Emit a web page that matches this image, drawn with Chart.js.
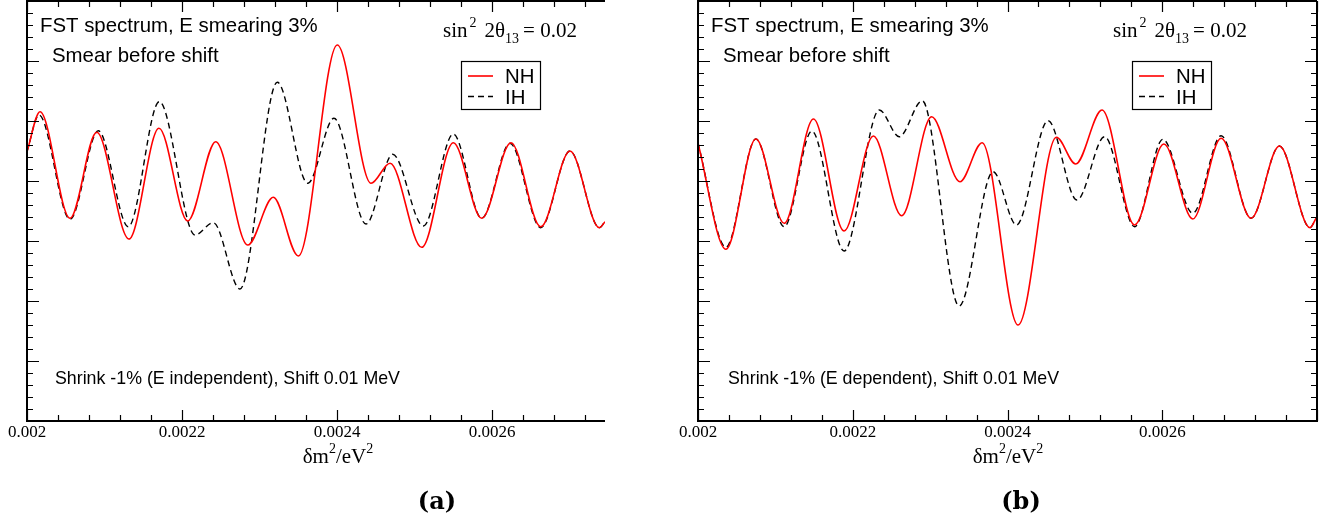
<!DOCTYPE html>
<html>
<head>
<meta charset="utf-8">
<script src="https://cdn.jsdelivr.net/npm/chart.js@4.4.1/dist/chart.umd.min.js"></script>
<style>
  html, body { margin: 0; padding: 0; background: #fff; }
  #wrap { position: relative; width: 1322px; height: 521px; }
  canvas { position: absolute; top: 0; }
</style>
</head>
<body>
<div id="wrap">
  <canvas id="chartA" width="661" height="521" style="left:0"></canvas>
  <canvas id="chartB" width="661" height="521" style="left:661px"></canvas>
</div>
<script>
// panel (a): E independent shrink
const aNhX = [0.0020000, 0.0020168, 0.0020555, 0.0020899, 0.0021316, 0.0021703, 0.0022074, 0.0022435, 0.0022848, 0.0023178, 0.0023501,
              0.0024004, 0.0024439, 0.0024684, 0.0025093, 0.0025501, 0.0025867, 0.0026245, 0.0026628, 0.0027006, 0.0027385, 0.0027458]
const aNhY = [4.49, 5.155, 3.378, 4.812, 3.033, 4.878, 3.333, 4.655, 2.933, 3.728, 2.75,
              6.267, 3.962, 4.295, 2.895, 4.638, 3.378, 4.638, 3.238, 4.5, 3.222, 3.322]
const aIhX = [0.0020000, 0.0020155, 0.0020555, 0.0020920, 0.0021307, 0.0021707, 0.0022168, 0.0022404, 0.0022748, 0.0023230, 0.0023622,
              0.0023961, 0.0024374, 0.0024719, 0.0025114, 0.0025501, 0.0025867, 0.0026232, 0.0026628, 0.0027006, 0.0027385, 0.0027458]
const aIhY = [4.49, 5.1, 3.362, 4.838, 3.238, 5.322, 3.1, 3.305, 2.2, 5.645, 3.962,
              5.045, 3.283, 4.445, 3.25, 4.783, 3.378, 4.628, 3.222, 4.5, 3.222, 3.322]

// panel (b): E dependent shrink
const bNhX = [0.0020000, 0.0020361, 0.0020748, 0.0021114, 0.0021492, 0.0021888, 0.0022266, 0.0022632, 0.0023019, 0.0023385, 0.0023672,
              0.0024137, 0.0024632, 0.0024881, 0.0025221, 0.0025643, 0.0026021, 0.0026395, 0.0026761, 0.0027148, 0.0027514, 0.0027910, 0.0027987]
const bNhY = [4.63, 2.862, 4.7, 3.295, 5.033, 3.167, 4.75, 3.422, 5.072, 3.988, 4.638,
              1.6, 4.728, 4.283, 5.183, 3.267, 4.617, 3.367, 4.712, 3.378, 4.583, 3.222, 3.378]
const bIhX = [0.0020000, 0.0020361, 0.0020748, 0.0021114, 0.0021471, 0.0021888, 0.0022343, 0.0022601, 0.0022898, 0.0023375, 0.0023814,
              0.0024116, 0.0024524, 0.0024898, 0.0025255, 0.0025643, 0.0026008, 0.0026395, 0.0026761, 0.0027148, 0.0027514, 0.0027910, 0.0027987]
const bIhY = [4.63, 2.895, 4.7, 3.238, 4.833, 2.833, 5.183, 4.738, 5.338, 1.917, 4.155,
              3.267, 5.005, 3.683, 4.738, 3.238, 4.695, 3.462, 4.755, 3.378, 4.583, 3.222, 3.378]

const xTicks = [0.002, 0.0022, 0.0024, 0.0026]
const xTickLabels = ['0.002', '0.0022', '0.0024', '0.0026']

const SANS = '"Liberation Sans", Arial, sans-serif'
const SERIF = '"Liberation Serif", "Times New Roman", serif'

const pts = (xs, ys) => xs.map((x, i) => ({ x: x, y: ys[i] }))

// draws text pieces one after another (for super/subscripts)
const runs = (ctx, x, y, parts) => {
    parts.forEach(p => {
        ctx.font = p[1]
        ctx.fillText(p[0], x, y + (p[2] || 0))
        x += ctx.measureText(p[0]).width + (p[3] || 0)
    })
}
const runsWidth = (ctx, parts) => {
    let w = 0
    parts.forEach(p => {
        ctx.font = p[1]
        w += ctx.measureText(p[0]).width + (p[3] || 0)
    })
    return w
}

const frame = panel => ({
    id: 'frame',
    afterDraw(chart) {
        const { ctx, chartArea: a, scales: { x, y } } = chart
        ctx.save()
        ctx.strokeStyle = '#000'
        ctx.fillStyle = '#000'

        // ticks
        ctx.lineWidth = 1.2
        ctx.beginPath()
        for (let i = 0; 0.002 + i * 0.00004 <= x.max + 1e-9; i++) {
            const px = Math.round(x.getPixelForValue(0.002 + i * 0.00004)) + 0.5
            const len = i % 5 == 0 ? 11 : 6
            ctx.moveTo(px, a.bottom); ctx.lineTo(px, a.bottom - len)
            ctx.moveTo(px, a.top); ctx.lineTo(px, a.top + len)
        }
        for (let i = 0; i <= 35; i++) {
            const py = Math.round(y.getPixelForValue(i * 0.2)) + 0.5
            const len = i % 5 == 0 ? 12 : 6
            ctx.moveTo(a.left, py); ctx.lineTo(a.left + len, py)
            if (panel.rightAxis) {
                ctx.moveTo(a.right, py); ctx.lineTo(a.right - len, py)
            }
        }
        ctx.stroke()

        // axes
        ctx.lineWidth = 2
        ctx.beginPath()
        ctx.moveTo(a.right, a.top); ctx.lineTo(a.left, a.top); ctx.lineTo(a.left, a.bottom); ctx.lineTo(a.right, a.bottom)
        if (panel.rightAxis) ctx.lineTo(a.right, a.top)
        ctx.stroke()

        // tick labels
        ctx.font = '17px ' + SERIF
        ctx.textAlign = 'center'
        ctx.textBaseline = 'alphabetic'
        xTicks.forEach((v, i) => ctx.fillText(xTickLabels[i], x.getPixelForValue(v), 437))

        // axis title
        ctx.textAlign = 'left'
        const title = [['δm', '21px ' + SERIF], ['2', '14px ' + SERIF, -10], ['/eV', '21px ' + SERIF], ['2', '14px ' + SERIF, -10]]
        runs(ctx, panel.titleX - runsWidth(ctx, title) / 2, 463, title)

        // annotations
        ctx.font = '20.4px ' + SANS
        ctx.fillText('FST spectrum, E smearing 3%', panel.fstX, 32)
        ctx.fillText('Smear before shift', panel.fstX + 12, 62)
        ctx.font = '17.8px ' + SANS
        ctx.fillText(panel.shrink, panel.shrinkX, 384)
        runs(ctx, panel.sinX, 37, [
            ['sin', '21px ' + SERIF, 0, 2],
            ['2', '14px ' + SERIF, -10, 8],
            ['2θ', '21px ' + SERIF, 0],
            ['13', '14px ' + SERIF, 6, 4],
            ['= 0.02', '21px ' + SERIF]
        ])

        // legend
        const lx = panel.legX
        ctx.lineWidth = 1.2
        ctx.fillStyle = '#fff'
        ctx.fillRect(lx, 61, 79, 48)
        ctx.strokeRect(lx + 0.5, 61.5, 79, 48)
        chart.data.datasets.forEach((ds, i) => {
            const ly = 76 + i * 20.5
            ctx.strokeStyle = ds.borderColor
            ctx.lineWidth = ds.borderWidth
            ctx.setLineDash(ds.borderDash || [])
            ctx.beginPath()
            ctx.moveTo(lx + 7, ly); ctx.lineTo(lx + 32, ly)
            ctx.stroke()
            ctx.setLineDash([])
            ctx.fillStyle = '#000'
            ctx.font = '20.4px ' + SANS
            ctx.fillText(ds.label, lx + 44, ly + 7)
        })

        // panel label
        ctx.textAlign = 'center'
        ctx.font = 'bold 24px "DejaVu Serif", serif'
        ctx.fillText(panel.tag, panel.tagX, 509)
        ctx.restore()
    }
})

const makeChart = (id, nhX, nhY, ihX, ihY, xMax, panel) => new Chart(document.getElementById(id), {
    type: 'line',
    data: {
        datasets: [{
            label: 'NH',
            data: pts(nhX, nhY),
            borderColor: '#ff0000',
            borderWidth: 1.6,
            pointRadius: 0,
            cubicInterpolationMode: 'monotone',
            fill: false
        }, {
            label: 'IH',
            data: pts(ihX, ihY),
            borderColor: '#000000',
            borderWidth: 1.4,
            borderDash: [6, 4],
            pointRadius: 0,
            cubicInterpolationMode: 'monotone',
            fill: false
        }]
    },
    options: {
        responsive: false,
        animation: false,
        layout: { padding: panel.pad },
        plugins: { legend: { display: false }, tooltip: { enabled: false } },
        scales: {
            x: { type: 'linear', min: 0.002, max: xMax, display: false },
            y: { type: 'linear', min: 0, max: 7, display: false }
        }
    },
    plugins: [frame(panel)]
})

makeChart('chartA', aNhX, aNhY, aIhX, aIhY, 0.0027458, {
    pad: { left: 27, right: 56, top: 1, bottom: 100 },
    rightAxis: false,
    titleX: 338, fstX: 40, shrinkX: 55, sinX: 443, legX: 461, tagX: 437,
    shrink: 'Shrink -1% (E independent), Shift 0.01 MeV', tag: '(a)'
})
makeChart('chartB', bNhX, bNhY, bIhX, bIhY, 0.0028, {
    pad: { left: 37, right: 5, top: 1, bottom: 100 },
    rightAxis: true,
    titleX: 347, fstX: 50, shrinkX: 67, sinX: 452, legX: 471, tagX: 360,
    shrink: 'Shrink -1% (E dependent), Shift 0.01 MeV', tag: '(b)'
})
</script>
</body>
</html>
